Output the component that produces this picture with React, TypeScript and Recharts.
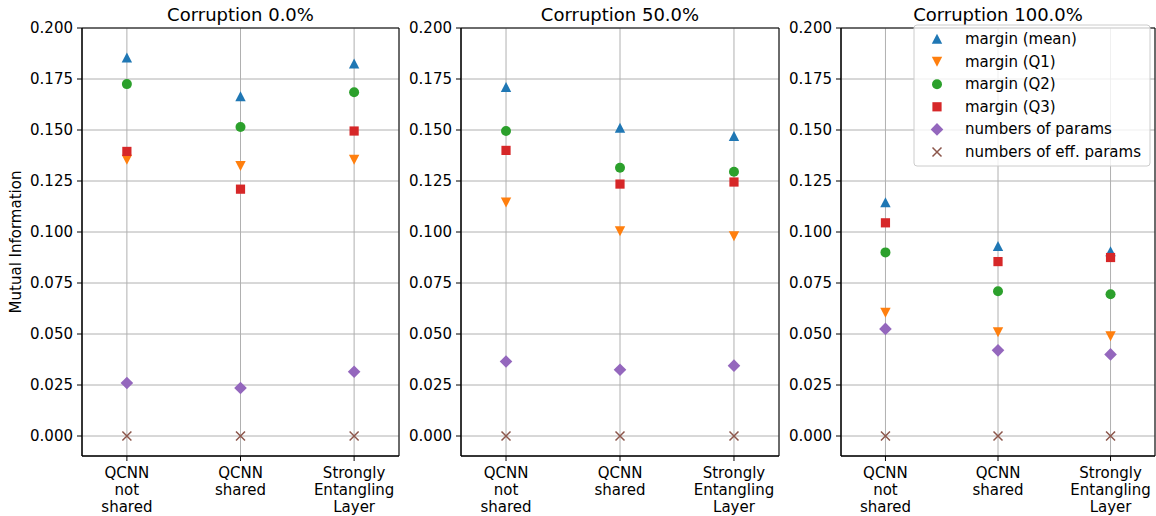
import React from 'react';
import { ScatterChart, Scatter, XAxis, YAxis, CartesianGrid, ReferenceArea } from 'recharts';

const categories = ['QCNN\nnot\nshared', 'QCNN\nshared', 'Strongly\nEntangling\nLayer'];
const titles = ['Corruption 0.0%', 'Corruption 50.0%', 'Corruption 100.0%'];
const yTicks = [0, 0.025, 0.05, 0.075, 0.1, 0.125, 0.15, 0.175, 0.2];

// one row per panel, one value per category
const marginMean = [
  [0.1855, 0.1665, 0.1825],
  [0.171, 0.151, 0.147],
  [0.1145, 0.093, 0.0905],
];
const marginQ1 = [
  [0.1355, 0.1325, 0.1355],
  [0.1145, 0.1005, 0.098],
  [0.0605, 0.051, 0.049],
];
const marginQ2 = [
  [0.1725, 0.1515, 0.1685],
  [0.1495, 0.1315, 0.1295],
  [0.090, 0.071, 0.0695],
];
const marginQ3 = [
  [0.1395, 0.121, 0.1495],
  [0.140, 0.1235, 0.1245],
  [0.1045, 0.0855, 0.0875],
];
const numParams = [
  [0.026, 0.0235, 0.0315],
  [0.0365, 0.0325, 0.0345],
  [0.0525, 0.042, 0.040],
];
const numEffParams = [
  [0, 0, 0],
  [0, 0, 0],
  [0, 0, 0],
];

const FONT = 'DejaVu Sans';
const TICK_FS = 15;
const X_DOMAIN: [number, number] = [-0.395, 2.395];
const Y_DOMAIN: [number, number] = [-0.0098, 0.2];

type Mk = (cx: number, cy: number, color: string) => React.ReactElement;

const triUp: Mk = (cx, cy, c) => (
  <path d={`M${cx},${cy - 5.2}L${cx - 5.2},${cy + 4.8}L${cx + 5.2},${cy + 4.8}Z`} fill={c} />
);
const triDown: Mk = (cx, cy, c) => (
  <path d={`M${cx},${cy + 5.2}L${cx - 5.2},${cy - 4.8}L${cx + 5.2},${cy - 4.8}Z`} fill={c} />
);
const circle: Mk = (cx, cy, c) => <circle cx={cx} cy={cy} r={5} fill={c} />;
const square: Mk = (cx, cy, c) => <rect x={cx - 4.6} y={cy - 4.6} width={9.2} height={9.2} fill={c} />;
const diamond: Mk = (cx, cy, c) => (
  <path d={`M${cx},${cy - 6.3}L${cx + 6.3},${cy}L${cx},${cy + 6.3}L${cx - 6.3},${cy}Z`} fill={c} />
);
const cross: Mk = (cx, cy, c) => (
  <path d={`M${cx - 4.5},${cy - 4.5}L${cx + 4.5},${cy + 4.5}M${cx - 4.5},${cy + 4.5}L${cx + 4.5},${cy - 4.5}`} stroke={c} strokeWidth={1.5} fill="none" />
);

const series = [
  { name: 'margin (mean)', values: marginMean, color: '#1f77b4', marker: triUp },
  { name: 'margin (Q1)', values: marginQ1, color: '#ff7f0e', marker: triDown },
  { name: 'margin (Q2)', values: marginQ2, color: '#2ca02c', marker: circle },
  { name: 'margin (Q3)', values: marginQ3, color: '#d62728', marker: square },
  { name: 'numbers of params', values: numParams, color: '#9467bd', marker: diamond },
  { name: 'numbers of eff. params', values: numEffParams, color: '#8c564b', marker: cross },
];

const panels = [
  { left: 0, width: 400, axisWidth: 82 },
  { left: 400, width: 380, axisWidth: 61 },
  { left: 780, width: 376, axisWidth: 61 },
];

const CategoryTick = (props: any) => {
  const { x, y, payload } = props;
  const lines = categories[payload.value].split('\n');
  return (
    <text x={x} y={y} textAnchor="middle" fontFamily={FONT} fontSize={TICK_FS} fill="#000">
      {lines.map((l, i) => (
        <tspan key={i} x={x} y={y + 15 + i * 17}>{l}</tspan>
      ))}
    </text>
  );
};

const Panel = ({ idx }: { idx: number }) => {
  const p = panels[idx];
  return (
    <div style={{ position: 'absolute', left: p.left, top: 0 }}>
      <ScatterChart width={p.width} height={516} margin={{ top: 28, right: 1, bottom: 0, left: 0 }}>
        <CartesianGrid stroke="#b0b0b0" strokeWidth={1} />
        <XAxis
          type="number"
          dataKey="x"
          domain={X_DOMAIN}
          ticks={[0, 1, 2]}
          allowDataOverflow
          height={60}
          tick={<CategoryTick />}
          tickSize={5}
          tickLine={{ stroke: '#000' }}
          axisLine={{ stroke: '#000' }}
        />
        <YAxis
          type="number"
          dataKey="y"
          domain={Y_DOMAIN}
          ticks={yTicks}
          allowDataOverflow
          width={p.axisWidth}
          tickFormatter={(v: number) => v.toFixed(3)}
          tick={{ fill: '#000', fontSize: TICK_FS, fontFamily: FONT }}
          tickSize={5}
          tickMargin={4}
          tickLine={{ stroke: '#000' }}
          axisLine={{ stroke: '#000' }}
        />
        <ReferenceArea x1={X_DOMAIN[0]} x2={X_DOMAIN[1]} y1={Y_DOMAIN[0]} y2={Y_DOMAIN[1]} fill="none" stroke="#000" strokeWidth={1} fillOpacity={0} strokeOpacity={1} />
        {series.map((s) => (
          <Scatter
            key={s.name}
            name={s.name}
            data={s.values[idx].map((v, i) => ({ x: i, y: v }))}
            isAnimationActive={false}
            shape={(sp: any) => s.marker(sp.cx, sp.cy, s.color)}
          />
        ))}
      </ScatterChart>
    </div>
  );
};

const Overlay = () => {
  const lx = 914;
  const ly = 25;
  return (
    <svg width={1156} height={516} style={{ position: 'absolute', left: 0, top: 0, pointerEvents: 'none' }}>
      {panels.map((p, i) => (
        <text
          key={i}
          x={p.left + p.axisWidth + (p.width - p.axisWidth - 1) / 2}
          y={21}
          textAnchor="middle"
          fontFamily={FONT}
          fontSize={18}
          fill="#000"
        >
          {titles[i]}
        </text>
      ))}
      <text x={16} y={242} transform="rotate(-90 16 242)" textAnchor="middle" dominantBaseline="central" fontFamily={FONT} fontSize={TICK_FS} fill="#000">
        Mutual Information
      </text>
      <rect x={lx} y={ly} width={236} height={141} rx={3} fill="#fff" fillOpacity={0.8} stroke="#cccccc" />
      {series.map((s, i) => {
        const cy = 39 + i * 22.6;
        return (
          <g key={s.name}>
            {s.marker(937, cy, s.color)}
            <text x={965} y={cy} dominantBaseline="central" fontFamily={FONT} fontSize={TICK_FS} fill="#000">
              {s.name}
            </text>
          </g>
        );
      })}
    </svg>
  );
};

export default function App() {
  return (
    <div style={{ position: 'absolute', left: 0, top: 0, width: 1156, height: 516, background: '#fff', fontFamily: FONT }}>
      {panels.map((_, i) => (
        <Panel key={i} idx={i} />
      ))}
      <Overlay />
    </div>
  );
}
